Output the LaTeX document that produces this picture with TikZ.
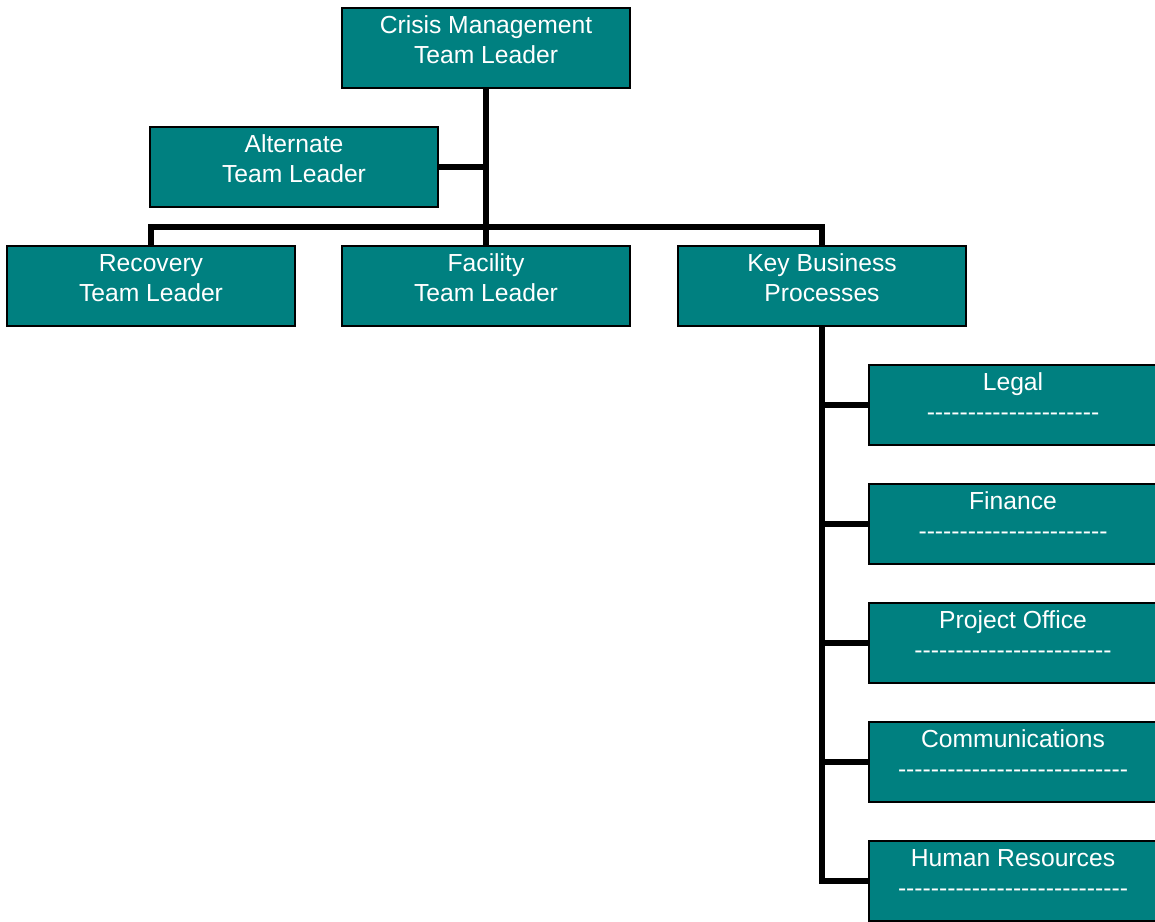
\documentclass[tikz,border=0pt]{standalone}
\usepackage{fontspec}
\setmainfont{Liberation Sans}
% a row of separate hyphens (kerns keep them from merging into dashes)
\ExplSyntaxOn
\cs_new:Npn \hyphenrow #1 { \prg_replicate:nn {#1} { -\kern0pt } }
\ExplSyntaxOff
\definecolor{boxteal}{HTML}{008080}
\tikzset{
  orgbox/.style={draw=black, line width=1.5pt, fill=boxteal,
    minimum width=216pt, minimum height=60pt, inner sep=0pt},
  % base anchor of a two-line label sits on its second line
  orgtext/.style={text=white, align=center, anchor=base,
    font=\fontsize{18.5}{22.5}\selectfont, inner sep=0pt},
  link/.style={draw=black, line width=4pt, line join=miter}
}
\begin{document}
\begin{tikzpicture}[x=0.75pt,y=-0.75pt]
\useasboundingbox (0,0) rectangle (1155,921);

\coordinate (bar) at (486,227);

% boxes
\node[orgbox] (crisis) at (486,48) {};
\node[orgbox] (alt) at (294,167) {};
\node[orgbox] (rec) at (151,286) {};
\node[orgbox] (fac) at (486,286) {};
\node[orgbox] (key) at (822,286) {};
\node[orgbox] (legal) at (1013,405) {};
\node[orgbox] (fin) at (1013,524) {};
\node[orgbox] (proj) at (1013,643) {};
\node[orgbox] (comm) at (1013,762) {};
\node[orgbox] (hr) at (1013,881) {};

% lines between boxes
\draw[link] (crisis.south) -- (fac.north);
\draw[link] (alt.east) -- (alt.east -| crisis.south);
\draw[link] (rec.north) |- (bar) -| (key.north);
\draw[link] (key.south) |- (hr.west);
\draw[link] (legal.west) -- (legal.west -| key.south);
\draw[link] (fin.west) -- (fin.west -| key.south);
\draw[link] (proj.west) -- (proj.west -| key.south);
\draw[link] (comm.west) -- (comm.west -| key.south);

% box labels
\node[orgtext] (crisis-t) at ([yshift=-42pt]crisis.north) {Crisis Management\\Team Leader};
\node[orgtext] (alt-t) at ([yshift=-42pt]alt.north) {Alternate\\Team Leader};
\node[orgtext] (rec-t) at ([yshift=-42pt]rec.north) {Recovery\\Team Leader};
\node[orgtext] (fac-t) at ([yshift=-42pt]fac.north) {Facility\\Team Leader};
\node[orgtext] (key-t) at ([yshift=-42pt]key.north) {Key Business\\Processes};
\node[orgtext] (legal-t) at ([yshift=-42pt]legal.north) {Legal\\\hyphenrow{21}};
\node[orgtext] (fin-t) at ([yshift=-42pt]fin.north) {Finance\\\hyphenrow{23}};
\node[orgtext] (proj-t) at ([yshift=-42pt]proj.north) {Project Office\\\hyphenrow{24}};
\node[orgtext] (comm-t) at ([yshift=-42pt]comm.north) {Communications\\\hyphenrow{28}};
\node[orgtext] (hr-t) at ([yshift=-42pt]hr.north) {Human Resources\\\hyphenrow{28}};
\end{tikzpicture}
\end{document}
